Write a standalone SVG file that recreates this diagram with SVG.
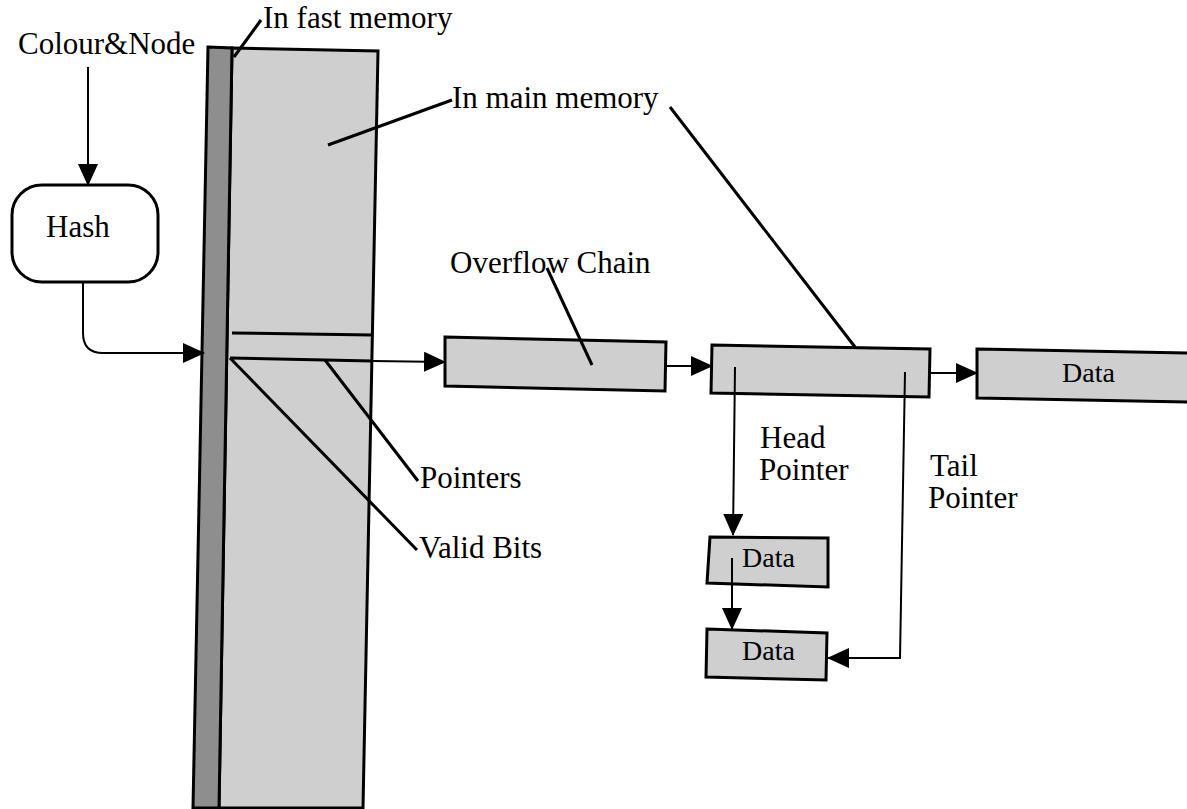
<svg xmlns="http://www.w3.org/2000/svg" width="1187" height="809" viewBox="0 0 1187 809">
<style>
text{font-family:"Liberation Serif","Times New Roman",serif;font-size:31px;fill:#000}
.data{font-size:28px}
.box{fill:#cfcfcf;stroke:#000;stroke-width:3;stroke-linejoin:miter}
.dark{fill:#8e8e8e;stroke:#000;stroke-width:3}
.ptr{stroke:#000;stroke-width:3;fill:none}
.conn{stroke:#000;stroke-width:2;fill:none}
.arr{marker-end:url(#ah)}
</style>
<defs>
<marker id="ah" viewBox="0 0 22 20" refX="21" refY="10" markerWidth="22" markerHeight="20" markerUnits="userSpaceOnUse" orient="auto">
<path d="M0,0 L22,10 L0,20 z" fill="#000"/>
</marker>
</defs>
<rect width="1187" height="809" fill="#fff"/>

<g id="table">
<polygon class="box" points="232,48 378,51 363,808 219,808"/>
<polygon class="dark" points="208,47 232,48 219,808 193,808"/>
<line class="ptr" x1="232" y1="333" x2="372" y2="335"/>
<line class="ptr" x1="230" y1="358" x2="372" y2="361"/>
</g>

<g id="hash">
<rect x="12" y="185" width="146" height="97" rx="30" ry="30" fill="#fff" stroke="#000" stroke-width="3"/>
<text x="46" y="237">Hash</text>
</g>

<g id="overflow-box">
<polygon class="box" points="445,337 666,342 665,391 445,386"/>
</g>
<g id="header-box">
<polygon class="box" points="712,345 930,349 929,397 711,393"/>
</g>
<g id="data-right">
<polygon class="box" points="977,349 1190,353 1190,402 977,398"/>
<text class="data" x="1062" y="382">Data</text>
</g>
<g id="data-1">
<polygon class="box" points="710,537 828,538 828,587 707,583"/>
<text class="data" x="742" y="567">Data</text>
</g>
<g id="data-2">
<polygon class="box" points="707,629 827,633 826,680 706,677"/>
<text class="data" x="742" y="660">Data</text>
</g>

<g id="labels">
<text x="18" y="54">Colour&amp;Node</text>
<text x="263" y="28">In fast memory</text>
<text x="452" y="108">In main memory</text>
<text x="450" y="273">Overflow Chain</text>
<text x="420" y="488">Pointers</text>
<text x="419" y="558">Valid Bits</text>
<text x="760" y="448">Head</text>
<text x="759" y="480">Pointer</text>
<text x="930" y="476">Tail</text>
<text x="928" y="508">Pointer</text>
</g>

<g id="connectors">
<line class="conn arr" x1="88" y1="67" x2="88" y2="185"/>
<path class="conn arr" d="M83,282 L83,333 Q83,353 103,353 L204,353"/>
<line class="conn arr" x1="373" y1="361" x2="445" y2="362"/>
<line class="conn arr" x1="666" y1="366" x2="712" y2="366"/>
<line class="conn arr" x1="930" y1="373" x2="977" y2="373"/>
<line class="conn arr" x1="735" y1="367" x2="733" y2="535"/>
<line class="conn arr" x1="732" y1="558" x2="732" y2="629"/>
<path class="conn arr" d="M905,372 L900,658 L828,658"/>
<line class="ptr" x1="261" y1="20" x2="234" y2="57"/>
<line class="ptr" x1="452" y1="100" x2="328" y2="145"/>
<line class="ptr" x1="670" y1="107" x2="855" y2="347"/>
<line class="ptr" x1="547" y1="268" x2="592" y2="365"/>
<line class="ptr" x1="325" y1="360" x2="418" y2="481"/>
<line class="ptr" x1="230" y1="358" x2="417" y2="550"/>
</g>
</svg>
